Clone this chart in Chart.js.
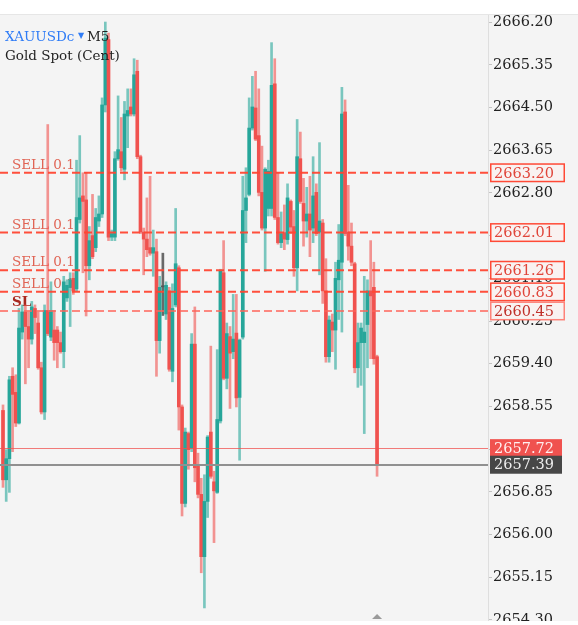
<!DOCTYPE html>
<html>
<head>
<meta charset="utf-8">
<script src="https://cdn.jsdelivr.net/npm/chart.js@4.4.1/dist/chart.umd.min.js"></script>
<style>
  html, body { margin: 0; padding: 0; background: #fff; }
  #wrap { width: 578px; height: 625px; }
</style>
</head>
<body>
<div id="wrap"><canvas id="chart" width="578" height="625"></canvas></div>
<script>
// XAUUSDc M5 candles (open / high / low / close)
const opens = [
  2658.47, 2657.09, 2657.51, 2659.15, 2658.83, 2658.22, 2660.03, 2660.43, 2660.14, 2659.89,
  2660.50, 2660.21, 2659.32, 2658.44, 2660.46, 2659.93, 2660.07, 2660.07, 2659.82, 2659.64,
  2660.71, 2660.92, 2661.10, 2660.89, 2662.27, 2662.74, 2662.66, 2661.35, 2661.95, 2661.71,
  2662.24, 2662.38, 2664.55, 2665.85, 2661.92, 2661.92, 2663.48, 2663.62, 2663.27, 2664.33,
  2664.51, 2664.37, 2665.22, 2663.52, 2662.02, 2661.88, 2661.71, 2661.60, 2661.63, 2659.86,
  2660.93, 2660.39, 2660.85, 2659.25, 2660.57, 2661.31, 2658.54, 2656.62, 2658.01, 2657.72,
  2659.79, 2657.37, 2656.80, 2655.56, 2656.66, 2658.04, 2657.05, 2656.84, 2658.26, 2661.21,
  2659.11, 2659.94, 2659.64, 2660.01, 2658.73, 2659.93, 2662.45, 2662.77, 2664.09, 2664.49,
  2663.94, 2662.81, 2662.10, 2662.49, 2662.49, 2664.97, 2662.31, 2661.81, 2662.01, 2661.87,
  2662.63, 2662.13, 2661.31, 2663.48, 2662.59, 2662.24, 2662.38, 2662.10, 2662.81, 2662.02,
  2662.20, 2660.85, 2659.54, 2660.23, 2660.07, 2661.07, 2661.42, 2664.41, 2662.02, 2661.74,
  2661.39, 2659.32, 2659.82, 2659.82, 2660.18, 2660.85, 2660.92, 2659.54
];
const highs = [
  2658.58, 2657.69, 2659.15, 2659.32, 2659.18, 2660.50, 2660.57, 2660.57, 2660.43, 2660.64,
  2660.57, 2660.43, 2659.43, 2660.57, 2664.16, 2661.03, 2660.46, 2660.14, 2660.03, 2661.14,
  2661.07, 2661.21, 2661.21, 2663.45, 2663.94, 2663.20, 2663.20, 2662.13, 2662.77, 2662.49,
  2662.74, 2664.69, 2666.20, 2665.98, 2662.06, 2663.62, 2664.73, 2664.30, 2664.62, 2664.87,
  2664.87, 2665.47, 2665.44, 2663.55, 2662.10, 2662.70, 2663.13, 2662.06, 2661.88, 2661.14,
  2661.60, 2661.03, 2660.92, 2660.99, 2662.49, 2661.35, 2658.58, 2658.12, 2658.04, 2660.00,
  2660.53, 2657.62, 2657.12, 2657.19, 2657.97, 2659.75, 2657.26, 2659.68, 2661.28, 2661.85,
  2660.21, 2660.14, 2660.78, 2660.78, 2659.89, 2663.13, 2663.30, 2664.69, 2665.12, 2665.22,
  2664.87, 2663.73, 2663.30, 2663.45, 2665.79, 2665.47, 2663.20, 2662.42, 2662.56, 2662.98,
  2662.66, 2662.45, 2664.26, 2664.01, 2663.09, 2662.91, 2663.13, 2663.52, 2662.98, 2663.80,
  2662.27, 2661.49, 2660.35, 2660.39, 2661.42, 2662.17, 2664.90, 2664.65, 2662.95, 2662.20,
  2661.42, 2660.21, 2660.21, 2661.14, 2661.07, 2661.85, 2661.42, 2659.57
];
const lows = [
  2656.94, 2656.66, 2656.84, 2657.65, 2658.15, 2658.20, 2659.89, 2659.00, 2659.32, 2659.79,
  2660.00, 2659.29, 2658.40, 2658.29, 2659.96, 2659.86, 2659.47, 2659.32, 2659.61, 2659.32,
  2660.64, 2660.14, 2660.78, 2660.85, 2662.20, 2661.21, 2660.35, 2661.07, 2661.49, 2661.63,
  2662.13, 2662.31, 2664.41, 2661.85, 2661.85, 2661.85, 2663.45, 2663.23, 2663.06, 2663.70,
  2664.33, 2664.33, 2663.48, 2661.99, 2661.17, 2661.53, 2661.56, 2661.14, 2659.15, 2659.61,
  2660.36, 2660.28, 2659.25, 2659.04, 2660.53, 2658.08, 2656.37, 2656.55, 2657.30, 2657.65,
  2657.05, 2656.73, 2655.24, 2654.54, 2656.34, 2657.12, 2655.84, 2656.82, 2658.22, 2659.08,
  2658.90, 2658.51, 2659.50, 2658.54, 2657.48, 2659.89, 2661.81, 2662.74, 2664.05, 2663.84,
  2662.74, 2662.06, 2661.24, 2662.34, 2662.34, 2662.27, 2661.78, 2661.71, 2661.67, 2661.78,
  2661.99, 2661.14, 2660.85, 2662.59, 2661.74, 2661.92, 2661.53, 2661.81, 2661.95, 2661.17,
  2660.60, 2659.43, 2659.43, 2659.64, 2659.29, 2660.28, 2660.03, 2661.95, 2661.46, 2661.35,
  2659.22, 2658.93, 2658.97, 2658.01, 2659.32, 2659.50, 2659.39, 2657.16
];
const closes = [
  2657.09, 2657.51, 2659.08, 2658.79, 2658.22, 2660.11, 2660.43, 2660.14, 2659.89, 2660.53,
  2660.32, 2659.32, 2658.44, 2660.46, 2660.00, 2660.46, 2659.82, 2659.82, 2659.64, 2661.03,
  2660.96, 2661.07, 2660.85, 2662.31, 2662.70, 2662.63, 2661.35, 2661.85, 2661.53, 2662.31,
  2662.38, 2664.55, 2665.88, 2661.92, 2661.99, 2663.48, 2663.66, 2663.30, 2664.37, 2664.44,
  2664.37, 2665.15, 2663.52, 2662.02, 2661.88, 2661.67, 2661.60, 2661.71, 2659.86, 2660.92,
  2660.93, 2660.96, 2659.29, 2660.50, 2661.39, 2658.54, 2656.62, 2658.04, 2657.69, 2659.79,
  2657.33, 2656.80, 2655.56, 2656.66, 2657.94, 2657.16, 2656.87, 2658.29, 2661.24, 2659.11,
  2660.00, 2659.61, 2659.89, 2658.72, 2659.87, 2662.45, 2662.70, 2664.09, 2664.51, 2663.87,
  2662.81, 2662.10, 2663.27, 2663.23, 2664.94, 2662.31, 2661.81, 2661.99, 2661.88, 2662.70,
  2662.12, 2661.31, 2663.52, 2662.63, 2662.24, 2662.38, 2662.06, 2662.74, 2661.99, 2662.24,
  2660.85, 2659.54, 2660.27, 2660.07, 2661.10, 2661.46, 2664.37, 2661.99, 2661.74, 2661.42,
  2659.32, 2659.82, 2660.11, 2660.03, 2660.85, 2660.75, 2659.50, 2657.39
];

// price axis labels
const tickValues = [
  2654.30, 2655.15, 2656.00, 2656.85, 2657.70, 2658.55, 2659.40, 2660.25,
  2661.10, 2661.95, 2662.80, 2663.65, 2664.50, 2665.35, 2666.20
];

// open orders, stop loss and current quotes
const orderPrices = [2663.20, 2662.01, 2661.26, 2660.83];
const orderLabels = ['SELL 0.1', 'SELL 0.1', 'SELL 0.1', 'SELL 0.1'];
const stopLoss = 2660.45;
const askPrice = 2657.72;
const bidPrice = 2657.39;

const GREEN = '#26a69a';
const RED = '#f0524f';
const FONT = '"DejaVu Serif"';

const idx = opens.map((_, i) => i);

function dir(i) {
  if (closes[i] > opens[i]) return 1;
  if (closes[i] < opens[i]) return -1;
  return 0;
}
function bodyColor(i) {
  const d = dir(i);
  return d > 0 ? GREEN : d < 0 ? RED : '#555555';
}
function wickColor(i) {
  const d = dir(i);
  return d > 0 ? 'rgba(38,166,154,0.6)' : d < 0 ? 'rgba(240,82,79,0.6)' : 'rgba(70,70,70,0.8)';
}

function priceBox(c, yPix, text, opt) {
  const x = 490, w = opt.w, h = 18;
  c.fillStyle = opt.fill;
  c.fillRect(x, yPix - h / 2, w, h);
  if (opt.stroke) {
    c.strokeStyle = opt.stroke;
    c.lineWidth = 1.5;
    c.strokeRect(x + 0.75, yPix - h / 2 + 0.25, w - 1.5, h - 0.5);
  }
  c.fillStyle = opt.text;
  c.font = '14.5px ' + FONT;
  c.textAlign = 'left';
  c.textBaseline = 'middle';
  c.fillText(text, x + 4, yPix + 1);
}

const overlay = {
  id: 'overlay',
  beforeDraw(chart) {
    const c = chart.ctx;
    c.save();
    c.fillStyle = '#ffffff';
    c.fillRect(0, 0, chart.width, chart.height);
    c.fillStyle = '#f4f4f4';
    c.fillRect(0, 15, chart.width, 606);
    c.fillStyle = '#e6e6e6';
    c.fillRect(0, 14, chart.width, 1);
    c.restore();
  },
  beforeDatasetsDraw(chart) {
    // order labels sit under the candles
    const c = chart.ctx, y = chart.scales.y;
    c.save();
    c.textAlign = 'left';
    c.textBaseline = 'alphabetic';
    c.font = '13.5px ' + FONT;
    c.fillStyle = 'rgba(222,84,68,0.9)';
    orderPrices.forEach((p, k) => {
      c.fillText(orderLabels[k], 12, y.getPixelForValue(p) - 4);
    });
    c.font = 'bold 13.5px ' + FONT;
    c.fillStyle = '#a8281f';
    c.fillText('SL', 12, y.getPixelForValue(stopLoss) - 5);
    c.restore();
  },
  afterDatasetsDraw(chart) {
    const c = chart.ctx, y = chart.scales.y, a = chart.chartArea;
    c.save();
    // ask / bid lines
    c.lineWidth = 1;
    c.strokeStyle = 'rgba(240,82,79,0.75)';
    let py = Math.round(y.getPixelForValue(askPrice)) + 0.5;
    c.beginPath(); c.moveTo(a.left, py); c.lineTo(a.right, py); c.stroke();
    c.lineWidth = 2;
    c.strokeStyle = '#909090';
    py = Math.round(y.getPixelForValue(bidPrice));
    c.beginPath(); c.moveTo(a.left, py); c.lineTo(a.right, py); c.stroke();
    // order lines
    c.setLineDash([8, 4]);
    c.lineWidth = 2;
    c.strokeStyle = 'rgba(255,70,50,0.95)';
    orderPrices.forEach(p => {
      const yy = y.getPixelForValue(p);
      c.beginPath(); c.moveTo(a.left, yy); c.lineTo(a.right, yy); c.stroke();
    });
    c.strokeStyle = 'rgba(255,100,90,0.75)';
    const ys = y.getPixelForValue(stopLoss);
    c.beginPath(); c.moveTo(a.left, ys); c.lineTo(a.right, ys); c.stroke();
    c.restore();
  },
  afterDraw(chart) {
    const c = chart.ctx, y = chart.scales.y, x = chart.scales.x;
    c.save();
    // bottom edge of the panel
    c.fillStyle = '#ffffff';
    c.fillRect(0, 621, chart.width, chart.height - 621);

    orderPrices.forEach(p => {
      priceBox(c, y.getPixelForValue(p), p.toFixed(2),
        { w: 75, fill: '#f9f2f1', stroke: '#ff4a36', text: '#e0453a' });
    });
    priceBox(c, y.getPixelForValue(stopLoss), stopLoss.toFixed(2),
      { w: 75, fill: '#f9f2f1', stroke: 'rgba(255,110,100,0.85)', text: '#c0302a' });
    priceBox(c, y.getPixelForValue(askPrice), askPrice.toFixed(2),
      { w: 72, fill: '#f0524f', text: '#fff0f0' });
    priceBox(c, y.getPixelForValue(bidPrice), bidPrice.toFixed(2),
      { w: 72, fill: '#474747', text: '#eeeeee' });

    // symbol title
    c.textAlign = 'left';
    c.textBaseline = 'alphabetic';
    c.font = '13.5px ' + FONT;
    c.fillStyle = '#2f7cf6';
    c.fillText('XAUUSDc', 5, 41);
    c.font = '8px ' + FONT;
    c.fillText('\u25BC', 78, 38);
    c.font = '13.5px ' + FONT;
    c.fillStyle = '#222222';
    c.fillText('M5', 87, 41);
    c.fillText('Gold Spot (Cent)', 5, 60);

    // last bar marker
    const lx = x.getPixelForValue(idx.length - 1);
    c.fillStyle = '#9a9a9a';
    c.beginPath();
    c.moveTo(lx - 5, 619); c.lineTo(lx + 5, 619); c.lineTo(lx, 614);
    c.closePath(); c.fill();
    c.restore();
  }
};

new Chart(document.getElementById('chart'), {
  type: 'bar',
  data: {
    datasets: [
      {
        label: 'wick',
        data: idx.map(i => ({ x: i, y: [lows[i], highs[i]] })),
        backgroundColor: idx.map(wickColor),
        barThickness: 2,
        grouped: false,
        order: 2
      },
      {
        label: 'body',
        data: idx.map(i => ({ x: i, y: [opens[i], closes[i]] })),
        backgroundColor: idx.map(bodyColor),
        barThickness: 3,
        minBarLength: 1,
        grouped: false,
        order: 1
      }
    ]
  },
  options: {
    responsive: false,
    animation: false,
    layout: { padding: { top: 15, bottom: 4, left: 0, right: 0 } },
    plugins: {
      legend: { display: false },
      tooltip: { enabled: false }
    },
    scales: {
      x: {
        type: 'linear',
        display: false,
        offset: false,
        min: -0.94,
        max: 151.7
      },
      y: {
        position: 'right',
        min: 2654.28,
        max: 2666.34,
        afterBuildTicks: s => { s.ticks = tickValues.map(v => ({ value: v })); },
        afterFit: s => { s.width = 90; s.paddingTop = 0; s.paddingBottom = 0; },
        ticks: {
          autoSkip: false,
          padding: 1,
          color: '#222222',
          font: { family: 'DejaVu Serif', size: 14.5 },
          callback: v => Number(v).toFixed(2)
        },
        grid: { drawOnChartArea: false, drawTicks: true, tickLength: 4, color: '#c4c4c4' },
        border: { display: true, color: '#dedede' }
      }
    }
  },
  plugins: [overlay]
});
</script>
</body>
</html>
